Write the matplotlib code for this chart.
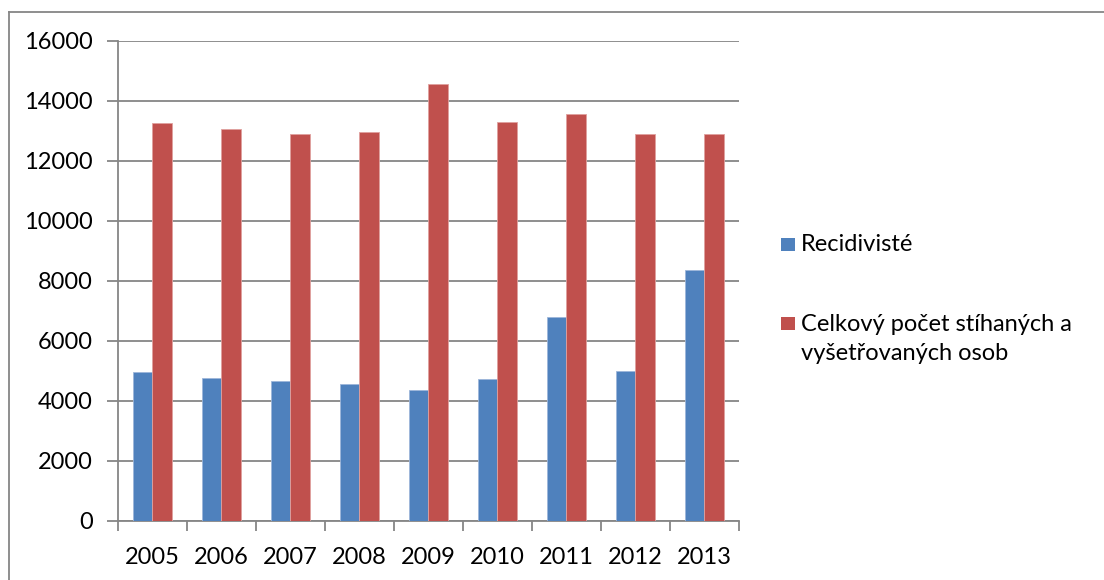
import matplotlib
matplotlib.use("Agg")
import matplotlib.pyplot as plt
import numpy as np
from matplotlib.patches import Rectangle
from matplotlib.lines import Line2D

years = ["2005", "2006", "2007", "2008", "2009", "2010", "2011", "2012", "2013"]
recidiviste = [4950, 4770, 4670, 4560, 4360, 4730, 6790, 4990, 8350]
celkem = [13250, 13050, 12890, 12950, 14550, 13300, 13570, 12910, 12900]
series_names = ["Recidivisté", "Celkový počet stíhaných a\nvyšetřovaných osob"]
yticks = [0, 2000, 4000, 6000, 8000, 10000, 12000, 14000, 16000]

BLUE = "#4F81BD"
RED = "#C0504D"
GRID = "#868686"
FONT = "Lato"
FS = 17

W, H = 1104, 580
fig = plt.figure(figsize=(W / 100, H / 100), dpi=100)
ax = fig.add_axes([118 / W, 1 - 520.5 / H, (738.5 - 118) / W, (520.5 - 41) / H])

x = np.arange(len(years))
bw = 0.283
ax.bar(x - bw / 2, recidiviste, bw, color=BLUE, edgecolor="#9DB6DA", linewidth=0.6, zorder=3)
ax.bar(x + bw / 2, celkem, bw, color=RED, edgecolor="#E0A09E", linewidth=0.6, zorder=3)

ax.set_xlim(-0.5, len(years) - 0.5)
ax.set_ylim(0, 16000)
ax.set_yticks(yticks)
ax.set_yticklabels([str(v) for v in yticks], fontfamily=FONT, fontsize=FS)
ax.set_xticks(x)
ax.set_xticklabels(years, fontfamily=FONT, fontsize=FS)
ax.set_xticks(np.arange(-0.5, len(years)), minor=True)
ax.tick_params(axis="x", which="major", length=0, pad=19)
ax.tick_params(axis="x", which="minor", length=7, width=1.3, color=GRID, direction="out")
ax.tick_params(axis="y", which="major", length=8, width=1.3, color=GRID, direction="out", pad=10)
ax.grid(axis="y", color=GRID, linewidth=1.3, zorder=0)
for s in ["top", "right"]:
    ax.spines[s].set_visible(False)
for s in ["left", "bottom"]:
    ax.spines[s].set_color(GRID)
    ax.spines[s].set_linewidth(1.3)

# legend drawn manually
fig.patches.append(Rectangle((781 / W, 1 - 251 / H), 14 / W, 13 / H,
                             transform=fig.transFigure, facecolor=BLUE, edgecolor="none"))
fig.text(801 / W, 1 - 251 / H, series_names[0], fontfamily=FONT, fontsize=FS,
         va="baseline", ha="left")
fig.patches.append(Rectangle((781 / W, 1 - 330 / H), 14 / W, 13 / H,
                             transform=fig.transFigure, facecolor=RED, edgecolor="none"))
fig.text(801 / W, 1 - 314 / H, series_names[1], fontfamily=FONT, fontsize=FS,
         va="top", ha="left", linespacing=1.5)

# outer chart border (left and top visible)
fig.add_artist(Line2D([8.5 / W, 8.5 / W], [0, 1 - 11.5 / H], transform=fig.transFigure,
                      color=GRID, linewidth=1.3))
fig.add_artist(Line2D([8.5 / W, 1], [1 - 11.5 / H, 1 - 11.5 / H], transform=fig.transFigure,
                      color=GRID, linewidth=1.3))

fig.savefig("out.png", dpi=100)
